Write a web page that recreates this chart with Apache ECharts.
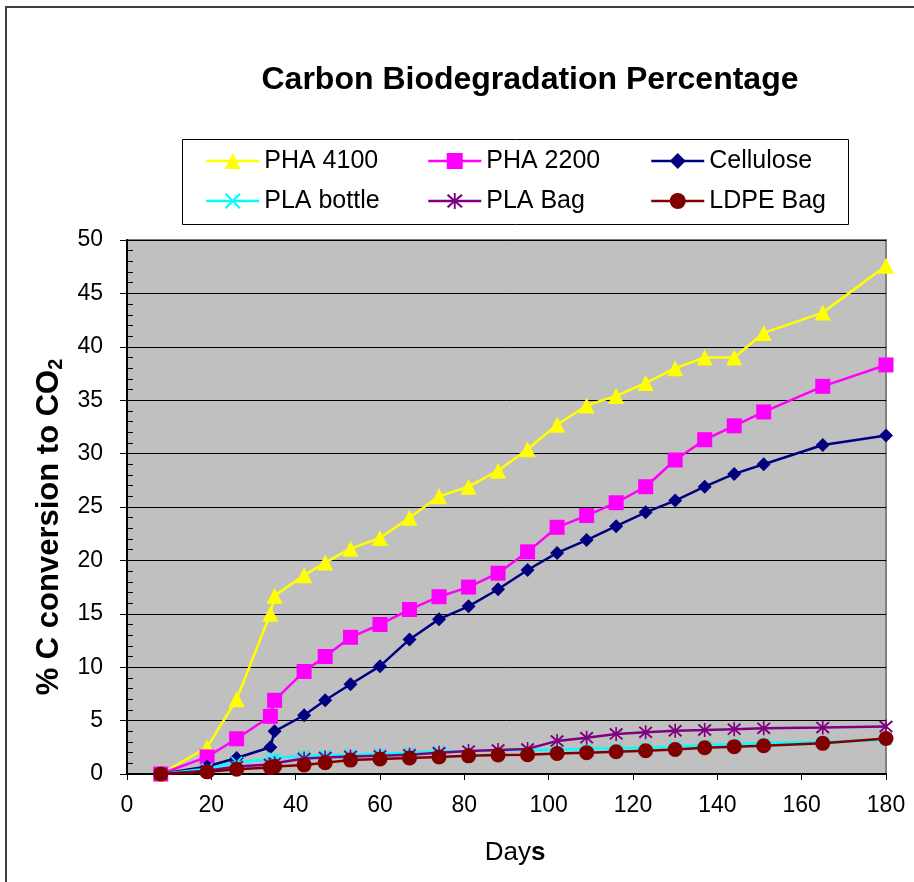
<!DOCTYPE html>
<html>
<head>
<meta charset="utf-8">
<script src="https://cdn.jsdelivr.net/npm/echarts@6/dist/echarts.min.js"></script>
<style>
  html, body { margin: 0; padding: 0; background: #ffffff; }
  #chart { width: 914px; height: 882px; }
</style>
</head>
<body>
<div id="chart"></div>
<script>
// ---- data ----
var days = [8, 19, 26, 34, 35, 42, 47, 53, 60, 67, 74, 81, 88, 95, 102, 109, 116, 123, 130, 137, 144, 151, 165, 180];
var pha4100   = [0, 2.5, 7.0, 15.0, 16.7, 18.6, 19.8, 21.1, 22.1, 24.0, 26.0, 26.9, 28.4, 30.4, 32.7, 34.5, 35.4, 36.6, 38.0, 39.0, 39.0, 41.3, 43.2, 47.6];
var pha2200   = [0, 1.6, 3.3, 5.4, 6.9, 9.6, 11.0, 12.8, 14.0, 15.4, 16.6, 17.5, 18.8, 20.8, 23.1, 24.2, 25.4, 26.9, 29.4, 31.3, 32.6, 33.9, 36.3, 38.3];
var cellulose = [0, 0.7, 1.5, 2.5, 4.0, 5.5, 6.9, 8.4, 10.1, 12.6, 14.5, 15.7, 17.3, 19.1, 20.7, 21.9, 23.2, 24.5, 25.6, 26.9, 28.1, 29.0, 30.8, 31.7];
var plaBottle = [0, 0.5, 1.1, 1.4, 1.5, 1.7, 1.75, 1.8, 1.9, 2.0, 2.1, 2.15, 2.2, 2.25, 2.3, 2.35, 2.4, 2.45, 2.6, 2.7, 2.8, 2.9, 3.0, 3.2];
var plaBag    = [0, 0.3, 0.7, 0.9, 1.0, 1.45, 1.55, 1.65, 1.7, 1.8, 2.0, 2.15, 2.25, 2.35, 3.1, 3.4, 3.75, 3.9, 4.05, 4.12, 4.2, 4.28, 4.35, 4.45];
var ldpeBag   = [0, 0.2, 0.45, 0.6, 0.7, 0.85, 1.05, 1.3, 1.4, 1.5, 1.6, 1.7, 1.78, 1.8, 1.93, 2.0, 2.09, 2.18, 2.3, 2.46, 2.56, 2.65, 2.87, 3.32];
var seriesNames = ['PHA 4100', 'PHA 2200', 'Cellulose', 'PLA bottle', 'PLA Bag', 'LDPE Bag'];
var titleText = 'Carbon Biodegradation Percentage';
var xTitle = 'Days';
var yTitleMain = '% C conversion to CO';
var yTitleSub = '2';
var xMin = 0, xMax = 180, xStep = 20;
var yMin = 0, yMax = 50, yStep = 5;

// ---- styling ----
var FONT = '"Liberation Sans", Arial, sans-serif';
var CROSS = 'path://M0,1 L1,0 L5,4 L9,0 L10,1 L6,5 L10,9 L9,10 L5,6 L1,10 L0,9 L4,5 Z';
var STAR = 'path://M0,1.6 L1,0.6 L5,4.2 L9,0.6 L10,1.6 L6,5 L10,8.4 L9,9.4 L5,5.8 L1,9.4 L0,8.4 L4,5 Z M4.4,0 L5.6,0 L5.6,10 L4.4,10 Z';

var styles = [
  { color: '#FFFF00', symbol: 'triangle', size: 16 },
  { color: '#FF00FF', symbol: 'rect', size: 15 },
  { color: '#000080', symbol: 'diamond', size: 14 },
  { color: '#00FFFF', symbol: CROSS, size: 12 },
  { color: '#800080', symbol: STAR, size: 14 },
  { color: '#800000', symbol: 'circle', size: 15 }
];
var values = [pha4100, pha2200, cellulose, plaBottle, plaBag, ldpeBag];

function pairs(vals) {
  return days.map(function (d, i) { return [d, vals[i]]; });
}

var series = seriesNames.map(function (name, k) {
  var s = styles[k];
  return {
    name: name,
    type: 'line',
    data: pairs(values[k]),
    symbol: s.symbol,
    symbolSize: s.size,
    showSymbol: true,
    lineStyle: { color: s.color, width: 2.5 },
    itemStyle: { color: s.color, borderWidth: 0 },
    emphasis: { disabled: true },
    z: 3 + k
  };
});

function legendCol(names, left) {
  return {
    orient: 'vertical',
    left: left,
    top: 143,
    itemWidth: 53,
    itemHeight: 20,
    itemGap: 14,
    selectedMode: false,
    data: names,
    lineStyle: { width: 2.5 },
    textStyle: { fontFamily: FONT, fontSize: 25, color: '#000', lineHeight: 26 }
  };
}

var chart = echarts.init(document.getElementById('chart'), null, { renderer: 'canvas' });
chart.setOption({
  animation: false,
  backgroundColor: '#ffffff',
  grid: {
    left: 127, top: 240, width: 759, height: 534,
    show: true, backgroundColor: '#C0C0C0', borderColor: '#808080', borderWidth: 2
  },
  legend: [
    legendCol([seriesNames[0], seriesNames[3]], 200),
    legendCol([seriesNames[1], seriesNames[4]], 422),
    legendCol([seriesNames[2], seriesNames[5]], 645)
  ],
  xAxis: {
    type: 'value', min: xMin, max: xMax, interval: xStep,
    axisLine: { show: true, onZero: false, lineStyle: { color: '#000', width: 2 } },
    axisTick: { show: true, inside: false, length: 6, lineStyle: { color: '#000', width: 1 } },
    axisLabel: { fontFamily: FONT, fontSize: 23, color: '#000', margin: 20 },
    splitLine: { show: false }
  },
  yAxis: [
    {
      type: 'value', min: yMin, max: yMax, interval: yStep,
      axisLine: { show: true, lineStyle: { color: '#000', width: 2 } },
      axisTick: { show: true, inside: false, length: 7, lineStyle: { color: '#000', width: 1 } },
      axisLabel: { fontFamily: FONT, fontSize: 23, color: '#000', margin: 24 },
      splitLine: { show: true, lineStyle: { color: '#000', width: 1 } }
    },
    {
      type: 'value', min: yMin, max: yMax, interval: 1, position: 'left',
      axisLine: { show: false },
      axisTick: { show: true, inside: true, length: 6, lineStyle: { color: '#000', width: 1 } },
      axisLabel: { show: false },
      splitLine: { show: false }
    }
  ],
  series: series,
  graphic: [
    {
      type: 'polyline', z: 0, silent: true,
      shape: { points: [[6, 882], [6, 7], [914, 7]] },
      style: { stroke: '#404040', lineWidth: 2, fill: null }
    },
    {
      type: 'rect', z: 0, silent: true,
      shape: { x: 182.5, y: 139.5, width: 666, height: 85 },
      style: { fill: '#ffffff', stroke: '#000', lineWidth: 1 }
    },
    {
      type: 'text', z: 10, silent: true,
      x: 530, y: 80,
      style: {
        text: titleText, fontFamily: FONT, fontSize: 32, fontWeight: 'bold',
        fill: '#000', align: 'center', verticalAlign: 'middle'
      }
    },
    {
      type: 'text', z: 10, silent: true,
      x: 515, y: 853,
      style: {
        text: '{n|' + xTitle.slice(0, 3) + '}{b|' + xTitle.slice(3) + '}',
        align: 'center', verticalAlign: 'middle',
        rich: {
          n: { fontFamily: FONT, fontSize: 26, color: '#000' },
          b: { fontFamily: FONT, fontSize: 26, fontWeight: 'bold', color: '#000' }
        }
      }
    },
    {
      type: 'text', z: 10, silent: true,
      x: 49, y: 527, rotation: Math.PI / 2,
      style: {
        text: '{a|' + yTitleMain + '}{s|' + yTitleSub + '}',
        align: 'center', verticalAlign: 'middle',
        rich: {
          a: { fontFamily: FONT, fontSize: 31, fontWeight: 'bold', color: '#000', lineHeight: 34, verticalAlign: 'middle' },
          s: { fontFamily: FONT, fontSize: 20, fontWeight: 'bold', color: '#000', lineHeight: 34, verticalAlign: 'bottom' }
        }
      }
    }
  ]
});
</script>
</body>
</html>
